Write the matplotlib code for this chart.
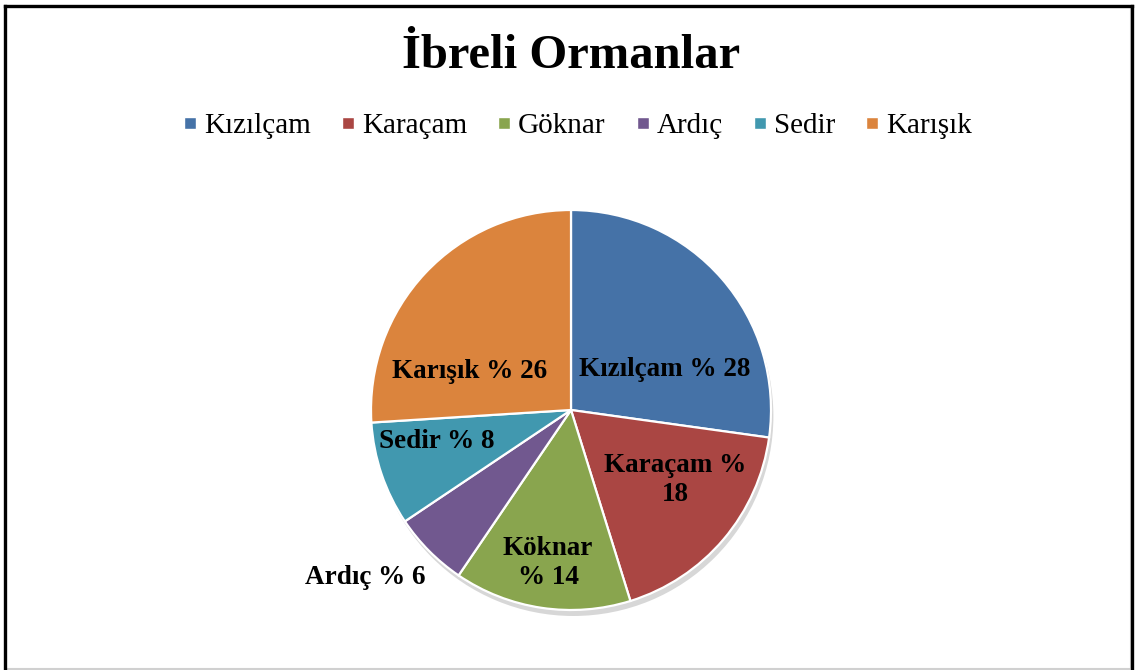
import matplotlib
matplotlib.use("Agg")
import matplotlib.pyplot as plt
from matplotlib.patches import Rectangle
from matplotlib.lines import Line2D

# chart data (slice sizes, labels as printed)
species = ["Kızılçam", "Karaçam", "Göknar", "Ardıç", "Sedir", "Karışık"]
shares = [27.2, 18.0, 14.3, 6.1, 8.4, 26.0]
slice_labels = ["Kızılçam % 28", "Karaçam %\n18", "Köknar\n% 14", "Ardıç % 6", "Sedir % 8", "Karışık % 26"]
colors = ["#4572A7", "#AA4643", "#89A54E", "#71588F", "#4198AF", "#DB843D"]

# label positions (relative to pie centre, radius = 1)
label_pos = [(0.47, 0.20), (0.52, -0.35), (-0.115, -0.765),
             (-1.03, -0.835), (-0.67, -0.16), (-0.505, 0.19)]

plt.rcParams['font.family'] = ['Liberation Serif', 'DejaVu Serif']

W, H = 1136, 670
fig = plt.figure(figsize=(W / 100, H / 100), dpi=100)

cx, cy, r = 571, 410, 200
ax = fig.add_axes([(cx - r) / W, (H - cy - r) / H, 2 * r / W, 2 * r / H])

# soft shadow
ax.pie([1], radius=1.0, center=(0.012, -0.03), colors=["#bdbdbd"],
       wedgeprops=dict(linewidth=0, alpha=0.6))
wedges, _ = ax.pie(shares, colors=colors, startangle=90, counterclock=False,
                   wedgeprops=dict(edgecolor="white", linewidth=1.6))
ax.set_xlim(-1, 1)
ax.set_ylim(-1, 1)
ax.set_aspect("equal")
ax.axis("off")

for (x, y), txt in zip(label_pos, slice_labels):
    ax.text(x, y, txt, ha="center", va="center", fontsize=19.5,
            fontweight="bold", linespacing=1.2, clip_on=False)

fig.text(0.5027, 1 - 56 / H, "İbreli Ormanlar", ha="center", va="center",
         fontsize=35, fontweight="bold")

handles = [Line2D([], [], marker="s", linestyle="none", markersize=9,
                  markerfacecolor=c, markeredgecolor="white") for c in colors]
fig.legend(handles, species, loc="center", bbox_to_anchor=(577 / W, 1 - 126 / H),
           ncol=6, frameon=False, fontsize=21, handlelength=0.55,
           handletextpad=0.2, columnspacing=1.0)

# outer frame
fig.patches.append(Rectangle((4.5 / W, 1.5 / H), (1131 - 4.5) / W, (H - 5.5 - 1.5) / H,
                             transform=fig.transFigure, fill=False,
                             edgecolor="#d0d0d0", linewidth=1.5))
for xs, ys in [([4.5, 4.5], [1.5, H - 5.5]), ([4.5, 1131.5], [H - 5.5, H - 5.5]),
               ([1131.5, 1131.5], [1.5, H - 5.5])]:
    fig.lines.append(Line2D([x / W for x in xs], [y / H for y in ys],
                            transform=fig.transFigure, color="black", linewidth=2.4))

fig.savefig("out.png", dpi=100)
